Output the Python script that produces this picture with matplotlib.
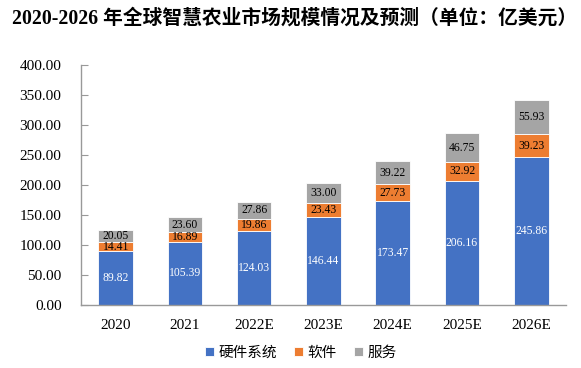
import matplotlib
matplotlib.use("Agg")
import matplotlib.pyplot as plt
import numpy as np

categories = ["2020", "2021", "2022E", "2023E", "2024E", "2025E", "2026E"]
hardware = [89.82, 105.39, 124.03, 146.44, 173.47, 206.16, 245.86]
software = [14.41, 16.89, 19.86, 23.43, 27.73, 32.92, 39.23]
service = [20.05, 23.60, 27.86, 33.00, 39.22, 46.75, 55.93]
series_names = ["硬件系统", "软件", "服务"]
title = "2020-2026 年全球智慧农业市场规模情况及预测（单位：亿美元）"

colors = ["#4472C4", "#ED7D31", "#A5A5A5"]
serif = ["Liberation Serif", "Noto Sans CJK SC", "DejaVu Sans"]
plt.rcParams["font.family"] = serif

fig = plt.figure(figsize=(5.81, 3.68), dpi=100)
ax = fig.add_axes([0.1394, 0.1712, 0.8346, 0.6522])

x = np.arange(len(categories))
w = 0.5
hw = np.array(hardware)
sw = np.array(software)
sv = np.array(service)
b1 = ax.bar(x, hw, w, color=colors[0], edgecolor="white", linewidth=0.6, label=series_names[0])
b2 = ax.bar(x, sw, w, bottom=hw, color=colors[1], edgecolor="white", linewidth=0.6, label=series_names[1])
b3 = ax.bar(x, sv, w, bottom=hw + sw, color=colors[2], edgecolor="white", linewidth=0.6, label=series_names[2])

fs = 8.4
for i in range(len(x)):
    ax.text(x[i], hw[i] / 2, f"{hw[i]:.2f}", ha="center", va="center", fontsize=fs, color="white")
    ax.text(x[i], hw[i] + sw[i] / 2, f"{sw[i]:.2f}", ha="center", va="center", fontsize=fs, color="black")
    ax.text(x[i], hw[i] + sw[i] + sv[i] / 2, f"{sv[i]:.2f}", ha="center", va="center", fontsize=fs, color="black")

ax.set_xlim(-0.5, len(categories) - 0.5)
ax.set_ylim(0, 400)
ax.set_yticks(np.arange(0, 401, 50))
ax.set_yticklabels([f"{v:.2f}" for v in np.arange(0, 401, 50)], fontsize=11)
ax.set_xticks(x)
ax.set_xticklabels(categories, fontsize=11)
ax.tick_params(axis="y", direction="in", length=5, color="#999999", pad=14)
ax.tick_params(axis="x", length=0, pad=10)
for s in ["top", "right"]:
    ax.spines[s].set_visible(False)
for s in ["left", "bottom"]:
    ax.spines[s].set_color("#999999")
    ax.spines[s].set_linewidth(1.0)

fig.text(0.02, 0.95, title, fontsize=14.2, fontweight="bold", ha="left", va="center", family=serif)

leg = fig.legend(handles=[b1, b2, b3], labels=series_names, loc="center", bbox_to_anchor=(0.518, 0.042),
                 ncol=3, frameon=False, handlelength=0.6, handleheight=0.6,
                 handletextpad=0.3, columnspacing=1.2, prop={"family": ["Noto Sans CJK SC"], "size": 10.5})

fig.savefig("out.png", dpi=100)
